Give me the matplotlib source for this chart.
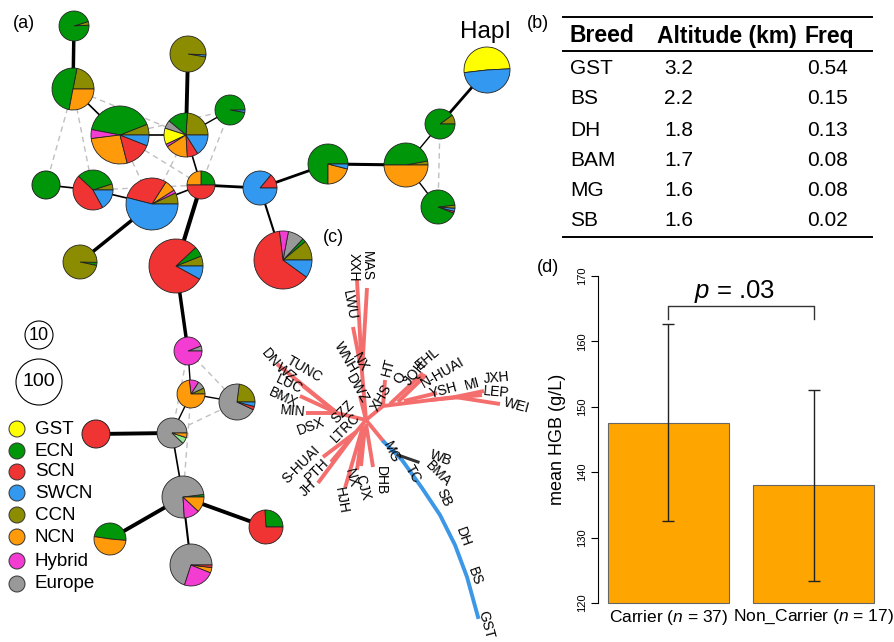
import numpy as np
import matplotlib.pyplot as plt
from matplotlib.patches import Wedge, Circle

plt.rcParams['font.family'] = ['Liberation Sans', 'DejaVu Sans']
plt.rcParams['mathtext.fontset'] = 'custom'
plt.rcParams['mathtext.it'] = 'Liberation Sans:italic'
plt.rcParams['mathtext.rm'] = 'Liberation Sans'

W, H = 895, 642

# groups and their colours
groups = ['GST', 'ECN', 'SCN', 'SWCN', 'CCN', 'NCN', 'Hybrid', 'Europe']
group_colors = ['#FFFF00', '#00960A', '#F03434', '#3399F0', '#8C8C00', '#FF9A0A', '#F23CD2', '#999999']
col = dict(zip(groups, group_colors))
col['other'] = '#90E890'

# (a) haplotype network: node centre (px), radius (px), start angle, group shares
node_x = [74, 73, 120, 186, 188, 230, 46, 93, 152, 201, 260, 487, 440, 328, 406, 438,
          80, 176, 283, 188, 191, 237, 96, 172, 183, 110, 266, 191]
node_y = [26, 89, 135, 135, 54, 110, 185, 190, 204, 185, 188, 70, 124, 164, 165, 207,
          262, 266, 260, 351, 394, 402, 434, 433, 497, 539, 527, 565]
node_r = [15, 21, 29, 22, 18, 15, 14, 20, 26, 14, 17, 23, 15, 20, 22, 17,
          17, 27, 29, 14, 14, 18, 14, 15, 21, 16, 17, 21]
node_start = [3, 0, 0, 0, -10, -10, 0, 0, 0, 0, 0, 3, 0, 0, 0, -22,
              -12, 0, 0, 0, 0, 0, 0, 0, 0, -5, 0, 0]
node_parts = [
    [('CCN', 0.04), ('ECN', 0.96)],
    [('CCN', 0.22), ('ECN', 0.50), ('NCN', 0.28)],
    [('CCN', 0.06), ('ECN', 0.41), ('Hybrid', 0.05), ('NCN', 0.27), ('SCN', 0.15), ('SWCN', 0.06)],
    [('CCN', 0.24), ('ECN', 0.15), ('Europe', 0.06), ('GST', 0.12), ('Hybrid', 0.02),
     ('NCN', 0.17), ('SCN', 0.08), ('SWCN', 0.16)],
    [('SWCN', 0.02), ('CCN', 0.98)],
    [('SWCN', 0.03), ('ECN', 0.97)],
    [('ECN', 1.0)],
    [('CCN', 0.05), ('ECN', 0.33), ('SCN', 0.45), ('SWCN', 0.17)],
    [('CCN', 0.07), ('Hybrid', 0.02), ('NCN', 0.07), ('SCN', 0.30), ('SWCN', 0.54)],
    [('ECN', 0.25), ('NCN', 0.25), ('SCN', 0.50)],
    [('SCN', 0.14), ('SWCN', 0.86)],
    [('GST', 0.51), ('SWCN', 0.49)],
    [('CCN', 0.10), ('ECN', 0.90)],
    [('ECN', 0.75), ('NCN', 0.21), ('SWCN', 0.04)],
    [('CCN', 0.03), ('ECN', 0.47), ('NCN', 0.50)],
    [('SCN', 0.02), ('SWCN', 0.03), ('CCN', 0.03), ('ECN', 0.92)],
    [('ECN', 0.03), ('CCN', 0.97)],
    [('CCN', 0.06), ('ECN', 0.06), ('SCN', 0.80), ('SWCN', 0.08)],
    [('CCN', 0.11), ('ECN', 0.02), ('Europe', 0.09), ('Hybrid', 0.05), ('SCN', 0.63), ('SWCN', 0.10)],
    [('Europe', 0.06), ('Hybrid', 0.94)],
    [('CCN', 0.07), ('Europe', 0.09), ('Hybrid', 0.11), ('NCN', 0.73)],
    [('CCN', 0.23), ('Europe', 0.70), ('SCN', 0.03), ('SWCN', 0.04)],
    [('SCN', 1.0)],
    [('Europe', 0.88), ('other', 0.07), ('NCN', 0.05)],
    [('ECN', 0.02), ('Europe', 0.74), ('Hybrid', 0.12), ('NCN', 0.12)],
    [('ECN', 0.49), ('NCN', 0.51)],
    [('ECN', 0.26), ('SCN', 0.74)],
    [('Europe', 0.70), ('Hybrid', 0.24), ('NCN', 0.04), ('SCN', 0.02)],
]
solid_edges = [(0, 1, 2.5), (1, 2, 1.2), (2, 3, 1.2), (4, 3, 2.8), (3, 5, 1.0), (3, 9, 1.2),
               (6, 7, 1.2), (7, 8, 1.2), (8, 9, 1.2), (9, 10, 2.0), (9, 17, 3.0), (8, 16, 2.5),
               (10, 18, 1.5), (10, 13, 2.0), (13, 14, 2.2), (14, 12, 1.0), (12, 11, 2.0),
               (14, 15, 1.0), (17, 19, 2.5), (19, 20, 1.0), (20, 21, 1.0), (20, 23, 1.0),
               (22, 23, 2.8), (23, 24, 1.2), (24, 25, 2.8), (24, 26, 2.8), (24, 27, 1.5)]
dashed_edges = [(1, 3), (1, 6), (1, 7), (2, 8), (2, 9), (2, 5), (3, 8), (5, 9), (7, 9),
                (12, 15), (19, 21), (21, 23), (20, 24), (19, 23)]

size_legend = ['10', '100']
size_legend_r = [14, 23]
size_legend_y = [335, 382]
legend_y = [429, 451, 472, 493, 515, 537, 561, 584]

# (b) table
breeds = ['GST', 'BS', 'DH', 'BAM', 'MG', 'SB']
altitude = ['3.2', '2.2', '1.8', '1.7', '1.6', '1.6']
freq = ['0.54', '0.15', '0.13', '0.08', '0.08', '0.02']
row_y = [68, 99, 130, 161, 191, 220]

# (c) tree: branches (polylines in px) and tip labels
red_branches = [
    [(366, 420), (362, 372), (357, 280)],
    [(362, 372), (367, 288)],
    [(361, 368), (353, 327)],
    [(366, 420), (360, 396)],
    [(366, 420), (337, 413), (277, 364)],
    [(337, 413), (303, 386)],
    [(337, 413), (300, 396)],
    [(337, 413), (306, 413)],
    [(366, 420), (356, 432), (323, 457)],
    [(356, 432), (331, 462)],
    [(356, 432), (318, 483)],
    [(363, 426), (345, 488)],
    [(363, 426), (357, 470)],
    [(365, 426), (361, 466)],
    [(366, 424), (373, 467)],
    [(366, 420), (383, 406), (455, 397), (484, 391)],
    [(455, 397), (500, 404)],
    [(430, 400), (482, 395)],
    [(383, 406), (385, 380)],
    [(390, 404), (423, 373)],
    [(398, 402), (426, 375)],
    [(404, 401), (437, 393)],
    [(366, 420), (384, 442)],
]
blue_branch = [(384, 442), (402, 460), (422, 488), (440, 515), (455, 545), (467, 577), (478, 617)]
gray_branch = [(398, 455), (418, 462)]
tree_labels = ['XXH', 'MAS', 'LWU', 'NX', 'WNH', 'DWZ', 'SZZ', 'DN', 'WZ', 'TUNC', 'LUC', 'BMX',
               'MIN', 'DSX', 'LTRC', 'S-HUAI', 'PTH', 'JH', 'HJH', 'NX', 'CJX', 'DHB',
               'HT', 'XHS', 'Q', 'JQH', 'EHL', 'N-HUAI', 'YSH', 'MI', 'JXH', 'LEP', 'WEI',
               'MG', 'WB', 'BMA', 'TC', 'SB', 'DH', 'BS', 'GST']
label_x = [354, 367, 349, 360, 346, 357, 343, 270, 286, 304, 289, 283, 293, 311, 346, 301, 317, 308,
           341, 351, 362, 381, 388, 381, 400, 415, 428, 443, 443, 472, 496, 496, 517,
           391, 441, 438, 413, 444, 463, 475, 486]
label_y = [267, 266, 305, 362, 357, 389, 412, 358, 373, 369, 384, 398, 411, 426, 428, 465, 470, 488,
           501, 478, 488, 481, 367, 398, 378, 373, 358, 373, 390, 384, 378, 392, 406,
           452, 458, 474, 474, 498, 537, 576, 625]
label_rot = [-90, -90, -80, -60, -60, -60, 45, -50, -40, -30, -25, -25, -5, 20, 45, 45, 45, 45,
             -80, -75, -75, -90, 75, 60, 60, 50, 40, 30, 15, 15, 5, -5, -15,
             -65, -20, -45, -60, -65, -70, -70, -75]

# (d) bar chart
bar_names = ['Carrier ($\\it{n}$ = 37)', 'Non_Carrier ($\\it{n}$ = 17)']
hgb_mean = [147.6, 138.0]
hgb_low = [132.5, 123.4]
hgb_high = [162.7, 152.5]
hgb_base = 120

fig = plt.figure(figsize=(8.95, 6.42), dpi=100)
ax = fig.add_axes([0, 0, 1, 1])
ax.set_xlim(0, W)
ax.set_ylim(H, 0)
ax.axis('off')

# network edges
for i, j in dashed_edges:
    ax.plot([node_x[i], node_x[j]], [node_y[i], node_y[j]], color='#C0C0C0', lw=1.0,
            ls=(0, (4, 3)), zorder=1)
for i, j, w in solid_edges:
    ax.plot([node_x[i], node_x[j]], [node_y[i], node_y[j]], color='black', lw=w, zorder=2,
            solid_capstyle='butt')

# pies (axis is inverted, so angles are negated)
for x, y, r, a0, parts in zip(node_x, node_y, node_r, node_start, node_parts):
    total = sum(f for _, f in parts)
    if len(parts) == 1:
        ax.add_patch(Circle((x, y), r, facecolor=col[parts[0][0]], edgecolor='#222222',
                            lw=0.7, zorder=3))
        continue
    a = a0
    for g, f in parts:
        a1 = a + 360 * f / total
        ax.add_patch(Wedge((x, y), r, -a1, -a, facecolor=col[g], edgecolor='#222222',
                           lw=0.6, zorder=3))
        a = a1

ax.text(486, 32, 'HapI', fontsize=17.5, ha='center', va='center')
ax.text(24, 24, '(a)', fontsize=13, ha='center', va='center')

for lab, r, y in zip(size_legend, size_legend_r, size_legend_y):
    ax.add_patch(Circle((39, y), r, facecolor='white', edgecolor='black', lw=0.8))
    ax.text(39, y, lab, fontsize=14 if lab == '100' else 13, ha='center', va='center')
for g, c, y in zip(groups, group_colors, legend_y):
    ax.add_patch(Circle((17, y), 8, facecolor=c, edgecolor='#333333', lw=0.7))
    ax.text(35, y, g, fontsize=13.5, ha='left', va='center')

# (b) table
ax.text(538, 24, '(b)', fontsize=13, ha='center', va='center')
for yy in [17, 51, 237]:
    ax.plot([563, 872], [yy, yy], color='black', lw=1.4)
ax.text(570, 36, 'Breed', fontsize=16.5, fontweight='bold', ha='left', va='center')
ax.text(657, 36, 'Altitude (km)', fontsize=16.5, fontweight='bold', ha='left', va='center')
ax.text(805, 36, 'Freq', fontsize=16.5, fontweight='bold', ha='left', va='center')
for b, alt, fr, y in zip(breeds, altitude, freq, row_y):
    ax.text(570, y, b, fontsize=15, ha='left', va='center')
    ax.text(664, y, alt, fontsize=15, ha='left', va='center')
    ax.text(807, y, fr, fontsize=15, ha='left', va='center')

# (c) tree
ax.text(333, 238, '(c)', fontsize=13, ha='center', va='center')
for br in red_branches:
    xs, ys = zip(*br)
    ax.plot(xs, ys, color='#F46E6E', lw=2.8, solid_capstyle='butt', zorder=2)
xs, ys = zip(*blue_branch)
ax.plot(xs, ys, color='#3C97E6', lw=2.8, zorder=2)
xs, ys = zip(*gray_branch)
ax.plot(xs, ys, color='#333333', lw=2.2, zorder=2)
for t, x, y, rot in zip(tree_labels, label_x, label_y, label_rot):
    ax.text(x, y, t, fontsize=10, rotation=rot, ha='center', va='center',
            rotation_mode='anchor', zorder=4)

# (d) bar chart
ax.text(548, 268, '(d)', fontsize=13, ha='center', va='center')
bx = fig.add_axes([598 / W, (H - 616) / H, 282 / W, 353 / H])
pos = [0.7, 1.9]
bx.bar(pos, np.array(hgb_mean) - hgb_base, width=1.0, bottom=hgb_base, color='#FFA500',
       edgecolor='#666666', lw=0.8)
err = [np.array(hgb_mean) - np.array(hgb_low), np.array(hgb_high) - np.array(hgb_mean)]
bx.errorbar(pos, hgb_mean, yerr=err, fmt='none', ecolor='#222222', elinewidth=1.0,
            capsize=4, capthick=1.0)
bx.set_xlim(0.117, 2.45)
bx.set_ylim(118, 172)
bx.set_yticks([120, 130, 140, 150, 160, 170])
bx.set_yticklabels(['120', '130', '140', '150', '160', '170'], rotation=90, va='center',
                   fontsize=8)
bx.tick_params(axis='y', length=5, width=0.8, pad=3)
bx.set_xticks(pos)
bx.set_xticklabels(bar_names, fontsize=12.5)
bx.tick_params(axis='x', length=0, pad=-6)
bx.spines['left'].set_bounds(120, 170)
for s in ['top', 'right', 'bottom']:
    bx.spines[s].set_visible(False)
bx.set_ylabel('mean HGB (g/L)', fontsize=13, labelpad=8)
bx.plot([0.7, 0.7, 1.9, 1.9], [163.4, 165.4, 165.4, 163.4], color='#333333', lw=1.0)
bx.text(1.25, 167.7, '$\\it{p}$ = .03', fontsize=18.5, ha='center', va='center')

fig.savefig('out.png', dpi=100)
